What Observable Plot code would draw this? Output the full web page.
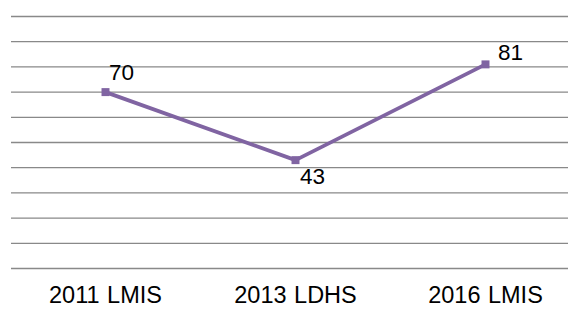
<!DOCTYPE html>
<html>
<head>
<meta charset="utf-8">
<script src="https://cdn.jsdelivr.net/npm/d3@7"></script>
<script src="https://cdn.jsdelivr.net/npm/@observablehq/plot@0.6"></script>
<style>
  html, body { margin: 0; padding: 0; background: #fff; }
  svg { display: block; }
  .xlab text { word-spacing: 1px; }
</style>
</head>
<body>
<div id="chart"></div>
<script>
const categories = ["2011 LMIS", "2013 LDHS", "2016 LMIS"];
const values = [70, 43, 81];
const gridValues = [0, 10, 20, 30, 40, 50, 60, 70, 80, 90, 100];

const data = categories.map((c, i) => ({category: c, value: values[i], i}));

// per-label offsets (layout, not data)
const labelDx = [16, 17, 25];
const labelDy = [-19, 17, -12];

const font = "Liberation Sans, Arial, sans-serif";

const plot = Plot.plot({
  width: 568,
  height: 309,
  marginLeft: 11,
  marginRight: 0,
  marginTop: 16,
  marginBottom: 41,
  style: {fontFamily: font, background: "#fff", overflow: "hidden"},
  x: {type: "point", domain: categories, range: [10, 580], padding: 0.5, axis: null},
  y: {domain: [0, 100], axis: null},
  marks: [
    Plot.ruleY(gridValues, {y: d => d, stroke: "#898989", strokeWidth: 1.3}),
    Plot.line(data, {x: "category", y: "value", stroke: "#8064A2", strokeWidth: 3.8}),
    Plot.dot(data, {x: "category", y: "value", symbol: "square", r: 4.5, fill: "#8064A2", stroke: "none"}),
    ...data.map((d, k) => Plot.text([d], {
      x: "category", y: "value", text: d => String(d.value),
      dx: labelDx[k], dy: labelDy[k], fontSize: 22.5, fill: "#000", textAnchor: "middle"
    })),
    Plot.text(categories, {
      x: d => d, frameAnchor: "bottom", dy: 27, text: d => d,
      fontSize: 23.5, fill: "#000", textAnchor: "middle", lineAnchor: "middle",
      className: "xlab"
    })
  ]
});
document.getElementById("chart").appendChild(plot);
</script>
</body>
</html>
